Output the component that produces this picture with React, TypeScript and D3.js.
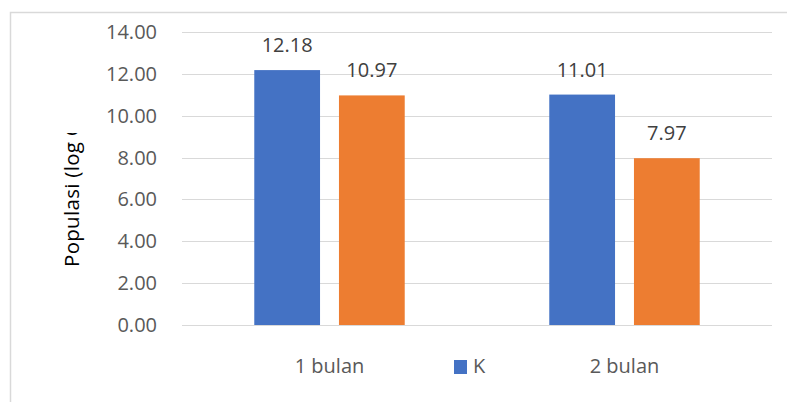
import React from "react";
import * as d3 from "d3";

const categories = ["1 bulan", "2 bulan"];
const seriesNames = ["K", "P"];
const seriesK = [12.18, 11.01];
const seriesP = [10.97, 7.97];
const yTicks = [0, 2, 4, 6, 8, 10, 12, 14];
const legendItems = ["K"];
const yTitle = "Populasi (log C";

const colors = ["#4472C4", "#ED7D31"];
const W = 787;
const H = 402;
const FONT = "'Open Sans', 'Noto Sans', sans-serif";
const FS = 20;

export default function App() {
  const values = [seriesK, seriesP];
  const x0 = d3
    .scaleBand<string>()
    .domain(categories)
    .range([182, 772])
    .paddingInner(0.49)
    .paddingOuter(0.245);
  const x1 = d3
    .scaleBand<string>()
    .domain(seriesNames)
    .range([0, x0.bandwidth()])
    .paddingInner(0.2235)
    .paddingOuter(0);
  const y = d3.scaleLinear().domain([0, 14]).range([325, 32]);
  const fmt = d3.format(".2f");
  const xMid = (182 + 772) / 2;

  return (
    <svg
      width={W}
      height={H}
      style={{ position: "absolute", left: 0, top: 0, background: "#fff" }}
      fontFamily={FONT}
    >
      <defs>
        <clipPath id="titleClip">
          <rect x={0} y={133} width={160} height={200} />
        </clipPath>
      </defs>
      <rect x={0} y={0} width={W} height={H} fill="#fff" />
      {/* chart border */}
      <path d={`M10.5,${H + 2} V12.5 H${W + 2}`} fill="none" stroke="#d9d9d9" strokeWidth={1.5} />
      {/* grid and tick labels */}
      {yTicks.map((t) => (
        <g key={t}>
          <line x1={182} x2={772} y1={Math.round(y(t)) + 0.5} y2={Math.round(y(t)) + 0.5} stroke="#d9d9d9" strokeWidth={1} />
          <text x={157} y={y(t)} dy="0.35em" textAnchor="end" fontSize={FS} fill="#595959">
            {fmt(t)}
          </text>
        </g>
      ))}
      {/* bars */}
      {categories.map((c, i) => (
        <g key={c} transform={`translate(${x0(c)},0)`}>
          {seriesNames.map((s, j) => {
            const v = values[j][i];
            const bx = x1(s)!;
            return (
              <g key={s}>
                <rect x={bx} y={y(v)} width={x1.bandwidth()} height={y(0) - y(v)} fill={colors[j]} />
                <text
                  x={bx + x1.bandwidth() / 2}
                  y={y(v) - 18}
                  textAnchor="middle"
                  fontSize={FS}
                  fill="#404040"
                >
                  {fmt(v)}
                </text>
              </g>
            );
          })}
        </g>
      ))}
      {/* category labels */}
      {categories.map((c) => (
        <text key={c} x={x0(c)! + x0.bandwidth() / 2} y={373} textAnchor="middle" fontSize={FS} fill="#595959">
          {c}
        </text>
      ))}
      {/* legend */}
      {legendItems.map((l, i) => (
        <g key={l} transform={`translate(${xMid - 23 + i * 60},0)`}>
          <rect x={0} y={360} width={13} height={14} fill={colors[i]} />
          <text x={19} y={373} fontSize={FS} fill="#595959">
            {l}
          </text>
        </g>
      ))}
      {/* y title */}
      <g clipPath="url(#titleClip)">
        <text
          transform={`translate(79,267) rotate(-90)`}
          textAnchor="start"
          fontSize={20.5}
          letterSpacing={0.3}
          fill="#000"
        >
          {yTitle}
        </text>
      </g>
    </svg>
  );
}
